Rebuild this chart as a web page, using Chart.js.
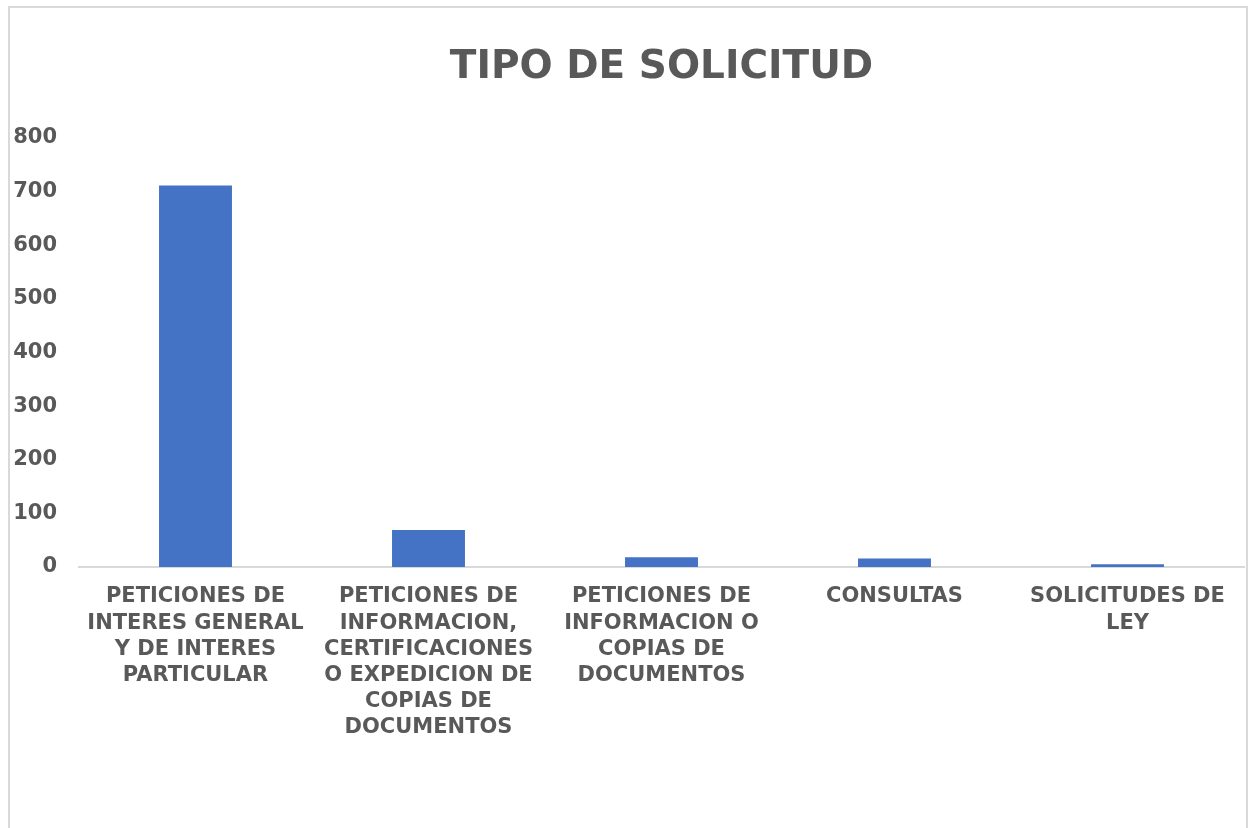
<!DOCTYPE html>
<html>
<head>
<meta charset="utf-8">
<script src="https://cdn.jsdelivr.net/npm/chart.js@4/dist/chart.umd.min.js"></script>
<style>
    html, body { margin: 0; padding: 0; background: #fff; overflow: hidden; }
    .frame {
        position: absolute; left: 8px; top: 6px; width: 1236px; height: 900px;
        border: 2px solid #d9d9d9; box-sizing: content-box;
    }
    .wrap { position: absolute; left: 0; top: 0; width: 1248px; height: 828px; }
</style>
</head>
<body>
<div class="frame"></div>
<div class="wrap"><canvas id="canvas" width="1248" height="828"></canvas></div>
<script>
// Chart data
var categories = [
    ['PETICIONES DE', 'INTERES GENERAL', 'Y DE INTERES', 'PARTICULAR'],
    ['PETICIONES DE', 'INFORMACION,', 'CERTIFICACIONES', 'O EXPEDICION DE', 'COPIAS DE', 'DOCUMENTOS'],
    ['PETICIONES DE', 'INFORMACION O', 'COPIAS DE', 'DOCUMENTOS'],
    ['CONSULTAS'],
    ['SOLICITUDES DE', 'LEY']
];
var values = [711, 69, 18, 16, 5];
var yTicks = [0, 100, 200, 300, 400, 500, 600, 700, 800];

var textColor = '#595959';
var fontFamily = "'DejaVu Sans', Verdana, sans-serif";

var config = {
    type: 'bar',
    data: {
        labels: categories,
        datasets: [{
            label: 'TIPO DE SOLICITUD',
            backgroundColor: '#4472C4',
            borderWidth: 0,
            barPercentage: 0.313,
            categoryPercentage: 1,
            data: values
        }]
    },
    options: {
        responsive: false,
        animation: false,
        layout: {
            padding: { left: 10, right: 4, top: 10, bottom: 60 }
        },
        plugins: {
            legend: { display: false },
            tooltip: { enabled: false },
            title: {
                display: true,
                fullSize: false,
                text: 'TIPO DE SOLICITUD',
                color: textColor,
                font: { family: fontFamily, size: 39, weight: 'bold', lineHeight: 1.2 },
                padding: { top: 34, bottom: 47 }
            }
        },
        scales: {
            x: {
                grid: { display: false },
                border: { display: true, color: '#d9d9d9', width: 2 },
                ticks: {
                    color: textColor,
                    autoSkip: false,
                    maxRotation: 0,
                    minRotation: 0,
                    padding: 9,
                    font: { family: fontFamily, size: 21, weight: 'bold', lineHeight: 1.24 }
                },
                afterFit: function(scale) { scale.height = 201; }
            },
            y: {
                min: 0,
                max: yTicks[yTicks.length - 1],
                grid: { display: false, drawTicks: false },
                border: { display: false },
                ticks: {
                    stepSize: yTicks[1] - yTicks[0],
                    color: textColor,
                    padding: 22,
                    font: { family: fontFamily, size: 21, weight: 'bold' }
                },
                afterFit: function(scale) { scale.width = 69; }
            }
        }
    }
};

window.onload = function() {
    window.myBar = new Chart(document.getElementById('canvas'), config);
};
</script>
</body>
</html>
